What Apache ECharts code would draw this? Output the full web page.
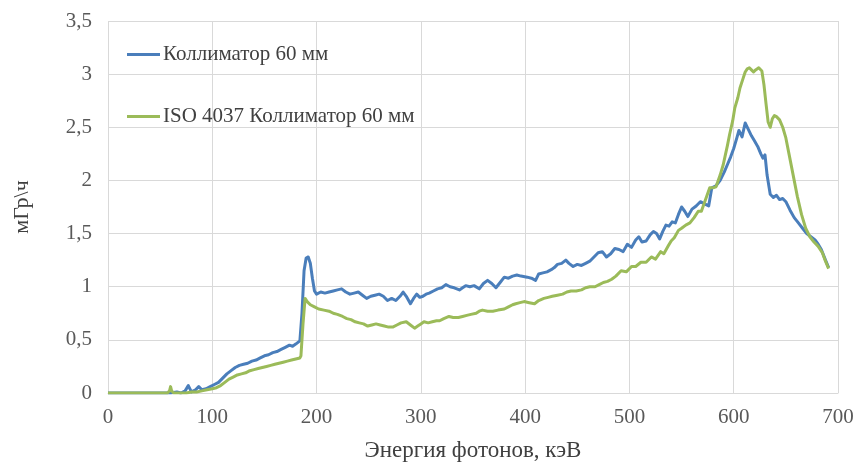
<!DOCTYPE html>
<html>
<head>
<meta charset="utf-8">
<script src="https://cdn.jsdelivr.net/npm/echarts@6/dist/echarts.min.js"></script>
<style>
  html, body { margin: 0; padding: 0; background: #ffffff; }
  #chart { width: 864px; height: 467px; }
</style>
</head>
<body>
<div id="chart"></div>
<script>
// Dose-rate spectra (мГр\ч) versus photon energy (кэВ)
const seriesNames = ['Коллиматор 60 мм', 'ISO 4037 Коллиматор 60 мм'];

const blueEnergy = [0, 60, 66, 70, 74, 77, 80, 84, 87, 90, 94, 98, 102, 106, 110, 114, 118, 122, 126, 130,
  134, 138, 142, 146, 150, 154, 158, 162, 166, 170, 174, 177, 180, 184, 186, 188, 190, 192, 194, 196,
  198, 200, 204, 208, 212, 216, 220, 224, 228, 232, 236, 240, 244, 248, 252, 256, 260, 264, 268, 272,
  276, 280, 283, 286, 290, 293, 296, 299, 302, 305, 308, 312, 316, 320, 324, 328, 332, 337, 340, 343,
  347, 351, 356, 360, 364, 368, 372, 376, 380, 384, 388, 392, 396, 402, 406, 410, 413, 417, 421, 425,
  428, 431, 435, 439, 442, 446, 450, 454, 458, 462, 466, 470, 474, 478, 482, 486, 490, 494, 498, 502,
  506, 509, 512, 516, 520, 523, 526, 529, 532, 535, 538, 541, 544, 547, 550, 553, 556, 560, 564, 568,
  572, 576, 579, 583, 587, 591, 594, 597, 600, 603, 605, 608, 611, 614, 617, 620, 623, 626, 628, 630,
  632, 635, 638, 641, 644, 647, 650, 654, 658, 662, 666, 670, 674, 678, 681, 684, 688, 691];
const blueDose = [0, 0, 0.01, 0.0, 0.02, 0.07, 0.01, 0.03, 0.06, 0.03, 0.04, 0.06, 0.08, 0.10, 0.14, 0.18, 0.21, 0.24, 0.26, 0.27,
  0.28, 0.30, 0.31, 0.33, 0.35, 0.36, 0.38, 0.39, 0.41, 0.43, 0.45, 0.44, 0.46, 0.49, 0.75, 1.15, 1.27, 1.28, 1.22, 1.08,
  0.96, 0.93, 0.95, 0.94, 0.95, 0.96, 0.97, 0.98, 0.95, 0.93, 0.94, 0.95, 0.92, 0.89, 0.91, 0.92, 0.93, 0.91, 0.87, 0.89,
  0.87, 0.91, 0.95, 0.91, 0.84, 0.89, 0.93, 0.90, 0.91, 0.93, 0.94, 0.96, 0.98, 0.99, 1.02, 1.00, 0.99, 0.97, 0.99, 1.01,
  1.00, 1.01, 0.98, 1.03, 1.06, 1.03, 0.99, 1.04, 1.09, 1.08, 1.10, 1.11, 1.10, 1.09, 1.08, 1.06, 1.12, 1.13, 1.14, 1.16,
  1.18, 1.21, 1.22, 1.25, 1.22, 1.19, 1.21, 1.20, 1.22, 1.24, 1.28, 1.32, 1.33, 1.28, 1.31, 1.36, 1.35, 1.33, 1.40, 1.37,
  1.44, 1.47, 1.42, 1.43, 1.49, 1.52, 1.50, 1.45, 1.52, 1.58, 1.57, 1.61, 1.60, 1.68, 1.75, 1.71, 1.66, 1.73, 1.76, 1.80,
  1.78, 1.76, 1.93, 1.95, 2.00, 2.08, 2.15, 2.22, 2.30, 2.40, 2.47, 2.41, 2.54, 2.48, 2.42, 2.37, 2.32, 2.25, 2.21, 2.24,
  2.05, 1.87, 1.84, 1.86, 1.82, 1.83, 1.80, 1.72, 1.65, 1.60, 1.55, 1.50, 1.47, 1.44, 1.40, 1.35, 1.25, 1.18];

const greenEnergy = [0, 57, 59, 60, 61, 63, 75, 80, 85, 90, 95, 100, 104, 108, 112, 116, 120, 124, 128, 132,
  136, 140, 144, 148, 152, 156, 160, 164, 168, 172, 176, 180, 184, 185, 187, 189, 191, 194, 198, 202,
  207, 212, 216, 220, 225, 229, 233, 237, 241, 245, 249, 253, 257, 261, 265, 269, 273, 277, 281, 286,
  290, 294, 297, 300, 303, 307, 311, 315, 318, 322, 327, 331, 336, 340, 344, 348, 353, 356, 359, 364,
  369, 374, 380, 384, 388, 391, 395, 399, 404, 409, 413, 418, 422, 426, 431, 436, 440, 444, 449, 454,
  458, 462, 467, 471, 475, 479, 483, 487, 492, 497, 502, 506, 511, 516, 521, 525, 530, 533, 537, 540,
  543, 547, 550, 554, 558, 562, 566, 569, 573, 577, 580, 583, 587, 590, 592, 594, 596, 599, 601, 604,
  606, 609, 611, 613, 615, 617, 619, 621, 624, 627, 629, 631, 633, 635, 637, 639, 641, 644, 647, 650,
  653, 657, 661, 665, 669, 673, 677, 681, 685, 688, 691];
const greenDose = [0, 0, 0.02, 0.06, 0.02, 0, 0, 0.01, 0.01, 0.02, 0.03, 0.04, 0.05, 0.07, 0.10, 0.13, 0.15, 0.17, 0.18, 0.19,
  0.21, 0.22, 0.23, 0.24, 0.25, 0.26, 0.27, 0.28, 0.29, 0.30, 0.31, 0.32, 0.33, 0.35, 0.65, 0.89, 0.86, 0.83, 0.81, 0.79,
  0.78, 0.77, 0.75, 0.74, 0.72, 0.70, 0.69, 0.67, 0.66, 0.65, 0.63, 0.64, 0.65, 0.64, 0.63, 0.62, 0.62, 0.64, 0.66, 0.67,
  0.64, 0.61, 0.63, 0.65, 0.67, 0.66, 0.67, 0.68, 0.68, 0.70, 0.72, 0.71, 0.71, 0.72, 0.73, 0.74, 0.75, 0.77, 0.78, 0.77,
  0.77, 0.78, 0.79, 0.81, 0.83, 0.84, 0.85, 0.86, 0.85, 0.84, 0.87, 0.89, 0.90, 0.91, 0.92, 0.93, 0.95, 0.96, 0.96, 0.97,
  0.99, 1.00, 1.00, 1.02, 1.04, 1.05, 1.07, 1.10, 1.15, 1.14, 1.19, 1.19, 1.23, 1.23, 1.28, 1.26, 1.33, 1.31, 1.38, 1.43,
  1.46, 1.53, 1.55, 1.58, 1.60, 1.65, 1.71, 1.71, 1.82, 1.93, 1.93, 1.94, 2.05, 2.15, 2.24, 2.33, 2.43, 2.56, 2.68, 2.78,
  2.87, 2.96, 3.02, 3.05, 3.06, 3.04, 3.02, 3.04, 3.06, 3.03, 2.90, 2.72, 2.55, 2.50, 2.58, 2.61, 2.60, 2.57, 2.50, 2.40,
  2.25, 2.05, 1.85, 1.68, 1.55, 1.47, 1.42, 1.38, 1.32, 1.24, 1.17];

const xTicks = { min: 0, max: 700, step: 100 };
const yTicks = { min: 0, max: 3.5, step: 0.5 };

const zip = (xs, ys) => xs.map((x, i) => [x, ys[i]]);

const serifFont = '"Liberation Serif", "Times New Roman", serif';
const gridColor = '#d9d9d9';
const labelColor = '#595959';

const chart = echarts.init(document.getElementById('chart'), null, { renderer: 'canvas' });
chart.setOption({
  animation: false,
  backgroundColor: '#ffffff',
  textStyle: { fontFamily: serifFont },
  grid: { left: 108, right: 26, top: 21, bottom: 70, containLabel: false },
  legend: {
    orient: 'vertical',
    left: 122,
    top: 39,
    itemGap: 41,
    itemWidth: 33,
    itemHeight: 3,
    icon: 'rect',
    textStyle: { fontFamily: serifFont, fontSize: 21, color: '#404040', padding: [0, 0, 0, -2] },
    data: seriesNames
  },
  xAxis: {
    type: 'value',
    min: xTicks.min,
    max: xTicks.max,
    interval: xTicks.step,
    name: 'Энергия фотонов, кэВ',
    nameLocation: 'middle',
    nameGap: 46,
    nameTextStyle: { fontFamily: serifFont, fontSize: 23, color: '#404040' },
    axisLine: { show: true, lineStyle: { color: gridColor, width: 1 } },
    axisTick: { show: false },
    axisLabel: { fontFamily: serifFont, fontSize: 21, color: labelColor, margin: 14 },
    splitLine: { show: true, lineStyle: { color: gridColor, width: 1 } }
  },
  yAxis: {
    type: 'value',
    min: yTicks.min,
    max: yTicks.max,
    interval: yTicks.step,
    name: 'мГр\\ч',
    nameLocation: 'middle',
    nameGap: 75,
    nameRotate: 90,
    nameTextStyle: { fontFamily: serifFont, fontSize: 22, color: '#404040' },
    axisLine: { show: false },
    axisTick: { show: false },
    axisLabel: {
      fontFamily: serifFont, fontSize: 21, color: labelColor, margin: 16,
      formatter: v => String(v).replace('.', ',')
    },
    splitLine: { show: true, lineStyle: { color: gridColor, width: 1 } }
  },
  series: [
    {
      name: seriesNames[0],
      type: 'line',
      data: zip(blueEnergy, blueDose),
      showSymbol: false,
      color: '#4a7ebb',
      lineStyle: { width: 3, color: '#4a7ebb', join: 'round' },
      z: 2
    },
    {
      name: seriesNames[1],
      type: 'line',
      data: zip(greenEnergy, greenDose),
      showSymbol: false,
      color: '#9bbb59',
      lineStyle: { width: 3, color: '#9bbb59', join: 'round' },
      z: 3
    }
  ]
});
</script>
</body>
</html>
